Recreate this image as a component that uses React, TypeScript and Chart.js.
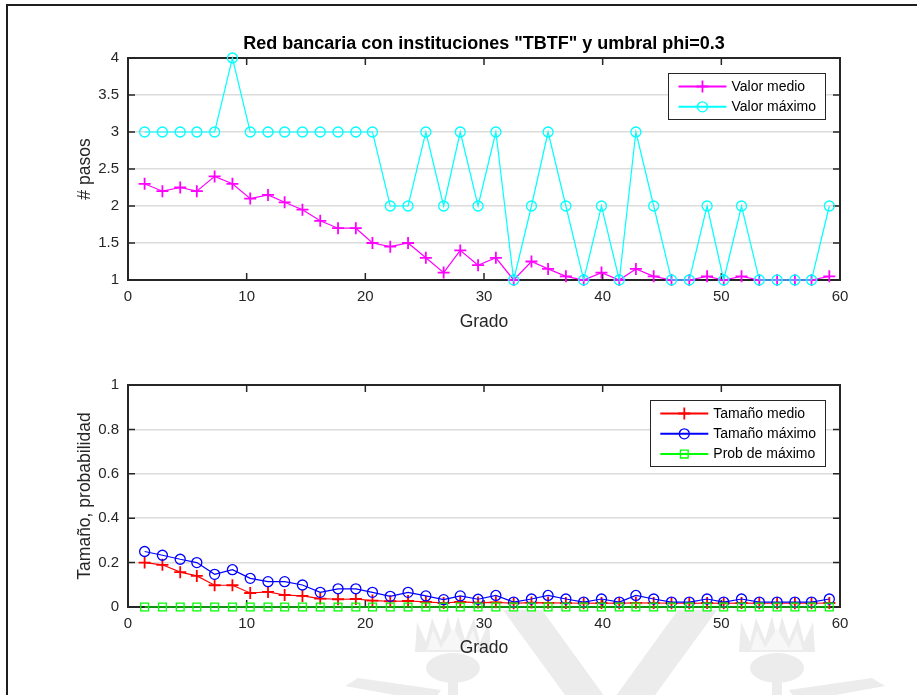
import React, { useEffect, useRef } from "react";
import { Chart, registerables } from "chart.js";

Chart.register(...registerables);

// Grado medio de la red (eje x compartido)
const grado = [
  1.4, 2.9, 4.4, 5.8, 7.3, 8.8, 10.3, 11.8, 13.2, 14.7,
  16.2, 17.7, 19.2, 20.6, 22.1, 23.6, 25.1, 26.6, 28.0, 29.5,
  31.0, 32.5, 34.0, 35.4, 36.9, 38.4, 39.9, 41.4, 42.8, 44.3,
  45.8, 47.3, 48.8, 50.2, 51.7, 53.2, 54.7, 56.2, 57.6, 59.1,
];

// Número de pasos de la cascada
const valorMedio = [
  2.3, 2.2, 2.25, 2.2, 2.4, 2.3, 2.1, 2.15, 2.05, 1.95,
  1.8, 1.7, 1.7, 1.5, 1.45, 1.5, 1.3, 1.1, 1.4, 1.2,
  1.3, 1.0, 1.25, 1.15, 1.05, 1.0, 1.1, 1.0, 1.15, 1.05,
  1.0, 1.0, 1.05, 1.0, 1.05, 1.0, 1.0, 1.0, 1.0, 1.05,
];
const valorMaximo = [
  3, 3, 3, 3, 3, 4, 3, 3, 3, 3,
  3, 3, 3, 3, 2, 2, 3, 2, 3, 2,
  3, 1, 2, 3, 2, 1, 2, 1, 3, 2,
  1, 1, 2, 1, 2, 1, 1, 1, 1, 2,
];

// Tamaño de la cascada y probabilidad del máximo
const tamanoMedio = [
  0.2, 0.19, 0.157, 0.14, 0.098, 0.098, 0.063, 0.068, 0.054, 0.05,
  0.038, 0.035, 0.036, 0.029, 0.026, 0.027, 0.023, 0.018, 0.023, 0.02,
  0.021, 0.017, 0.02, 0.019, 0.018, 0.017, 0.018, 0.017, 0.019, 0.018,
  0.017, 0.017, 0.018, 0.017, 0.018, 0.017, 0.017, 0.017, 0.017, 0.018,
];
const tamanoMaximo = [
  0.25, 0.233, 0.215, 0.2, 0.147, 0.168, 0.129, 0.114, 0.114, 0.099,
  0.066, 0.082, 0.082, 0.066, 0.048, 0.066, 0.05, 0.033, 0.05, 0.035,
  0.052, 0.022, 0.036, 0.052, 0.036, 0.022, 0.036, 0.022, 0.052, 0.036,
  0.022, 0.022, 0.036, 0.022, 0.036, 0.022, 0.022, 0.022, 0.022, 0.036,
];
const probMaximo = [
  0, 0, 0, 0, 0, 0, 0, 0, 0, 0,
  0, 0, 0, 0, 0, 0, 0, 0, 0, 0,
  0, 0, 0, 0, 0, 0, 0, 0, 0, 0,
  0, 0, 0, 0, 0, 0, 0, 0, 0, 0,
];

const titulo = 'Red bancaria con instituciones "TBTF" y umbral phi=0.3';
const xTicks = { min: 0, max: 60, step: 10 };
const yTicksPasos = { min: 1, max: 4, step: 0.5 };
const yTicksTamano = { min: 0, max: 1, step: 0.2 };

const FONT = "'Liberation Sans', Arial, Helvetica, sans-serif";
const INK = "#262626";
const W = 917;

const pts = (ys: number[]) => grado.map((x, i) => ({ x, y: ys[i] }));
const fmt = (v: number) => String(Number(v.toFixed(2)));

function drawMarker(ctx: CanvasRenderingContext2D, style: string, x: number, y: number, r: number) {
  ctx.beginPath();
  if (style === "cross") {
    ctx.moveTo(x - r, y); ctx.lineTo(x + r, y);
    ctx.moveTo(x, y - r); ctx.lineTo(x, y + r);
  } else if (style === "circle") {
    ctx.arc(x, y, r, 0, Math.PI * 2);
  } else {
    const s = r * Math.SQRT1_2;
    ctx.rect(x - s, y - s, 2 * s, 2 * s);
  }
  ctx.stroke();
}

// Box with inward ticks on all four sides
const framePlugin = {
  id: "matFrame",
  beforeDatasetsDraw(chart: any) {
    const { ctx, chartArea: a, scales } = chart;
    const tl = 7;
    ctx.save();
    ctx.strokeStyle = INK;
    ctx.lineWidth = 1.5;
    ctx.beginPath();
    scales.x.ticks.forEach((t: any) => {
      const px = scales.x.getPixelForValue(t.value);
      ctx.moveTo(px, a.top); ctx.lineTo(px, a.top + tl);
      ctx.moveTo(px, a.bottom); ctx.lineTo(px, a.bottom - tl);
    });
    scales.y.ticks.forEach((t: any) => {
      const py = scales.y.getPixelForValue(t.value);
      ctx.moveTo(a.left, py); ctx.lineTo(a.left + tl, py);
      ctx.moveTo(a.right, py); ctx.lineTo(a.right - tl, py);
    });
    ctx.stroke();
    ctx.lineWidth = 2;
    ctx.strokeRect(a.left, a.top, a.right - a.left, a.bottom - a.top);
    ctx.restore();
  },
};

// Legend box in the upper right corner, line + marker samples
const legendPlugin = {
  id: "matLegend",
  afterDatasetsDraw(chart: any) {
    const { ctx, chartArea: a } = chart;
    const sets = chart.data.datasets;
    ctx.save();
    ctx.font = `14px ${FONT}`;
    const textW = Math.max(...sets.map((d: any) => ctx.measureText(d.label).width));
    const rowH = 20.3;
    const boxW = 10 + 48 + 5 + textW + 9;
    const boxH = sets.length * rowH + 5;
    const right = a.right - 15;
    const left = right - boxW;
    const top = a.top + 15;
    ctx.fillStyle = "#ffffff";
    ctx.fillRect(left, top, boxW, boxH);
    ctx.strokeStyle = INK;
    ctx.lineWidth = 1;
    ctx.strokeRect(Math.round(left) + 0.5, Math.round(top) + 0.5, Math.round(boxW), Math.round(boxH));
    sets.forEach((d: any, i: number) => {
      const cy = top + 13.5 + i * rowH;
      const x0 = left + 10;
      ctx.strokeStyle = d.borderColor;
      ctx.lineWidth = 2;
      ctx.beginPath();
      ctx.moveTo(x0, cy); ctx.lineTo(x0 + 48, cy);
      ctx.stroke();
      ctx.lineWidth = d.pointBorderWidth;
      drawMarker(ctx, d.pointStyle, x0 + 24, cy, d.pointRadius);
      ctx.fillStyle = "#000000";
      ctx.textBaseline = "middle";
      ctx.textAlign = "left";
      ctx.fillText(d.label, x0 + 53, cy + 0.5);
    });
    ctx.restore();
  },
};

// Figure title above the upper panel
const titlePlugin = {
  id: "matTitle",
  afterDraw(chart: any) {
    const { ctx, chartArea: a } = chart;
    ctx.save();
    ctx.font = `bold 18px ${FONT}`;
    ctx.fillStyle = "#000000";
    ctx.textAlign = "center";
    ctx.textBaseline = "alphabetic";
    ctx.fillText(titulo, (a.left + a.right) / 2, 49);
    ctx.restore();
  },
};

// Faint emblem printed on the page behind the lower panel
const emblemPlugin = {
  id: "emblem",
  beforeDraw(chart: any) {
    const { ctx, chartArea: a } = chart;
    const oy = -345;
    ctx.save();
    ctx.beginPath();
    ctx.rect(0, a.bottom + 2, chart.width, chart.height);
    ctx.clip();
    ctx.fillStyle = "#ececec";
    const poly = (p: number[][]) => {
      ctx.beginPath();
      p.forEach(([x, y], i) => (i ? ctx.lineTo(x, y + oy) : ctx.moveTo(x, y + oy)));
      ctx.closePath();
      ctx.fill();
    };
    poly([[503, 610], [542, 610], [610, 704], [678, 610], [717, 610], [634, 724], [586, 724]]);
    const thistle = (cx: number, dir: number) => {
      ctx.fillStyle = "#ececec";
      poly([
        [cx - 38, 652], [cx - 36, 622], [cx - 27, 642], [cx - 21, 618], [cx - 12, 640],
        [cx - 5, 616], [cx, 638], [cx + 5, 616], [cx + 12, 640], [cx + 21, 618],
        [cx + 27, 642], [cx + 36, 622], [cx + 38, 652],
      ]);
      ctx.fillStyle = "#f7f7f7";
      poly([[cx - 26, 650], [cx - 20, 630], [cx - 12, 648], [cx, 628], [cx + 12, 648], [cx + 20, 630], [cx + 26, 650]]);
      ctx.fillStyle = "#ececec";
      ctx.beginPath();
      ctx.ellipse(cx, 668 + oy, 27, 15, 0, 0, Math.PI * 2);
      ctx.fill();
      ctx.fillRect(cx - 5, 680 + oy, 10, 30);
      poly([[cx + dir * 12, 690], [cx + dir * 95, 678], [cx + dir * 108, 686], [cx + dir * 20, 702]]);
    };
    thistle(453, -1);
    thistle(777, 1);
    ctx.restore();
  },
};

function makeConfig(opts: {
  datasets: any[];
  yTicks: { min: number; max: number; step: number };
  yTitle: string;
  padTop: number;
  padBottom: number;
  xScaleH: number;
  title: boolean;
  emblem: boolean;
}): any {
  const plugins: any[] = [framePlugin, legendPlugin];
  if (opts.title) plugins.push(titlePlugin);
  if (opts.emblem) plugins.push(emblemPlugin);
  return {
    type: "line",
    data: { datasets: opts.datasets },
    plugins,
    options: {
      responsive: false,
      animation: false,
      layout: { padding: { top: opts.padTop, bottom: opts.padBottom, left: 0, right: W - 840 } },
      plugins: { legend: { display: false }, tooltip: { enabled: false }, title: { display: false } },
      elements: { line: { tension: 0 } },
      scales: {
        x: {
          type: "linear",
          min: xTicks.min,
          max: xTicks.max,
          ticks: {
            stepSize: xTicks.step,
            color: INK,
            font: { family: FONT, size: 15 },
            padding: 8,
            maxRotation: 0,
            callback: (v: number) => fmt(v),
          },
          grid: { display: false, drawTicks: false },
          border: { display: false },
          title: { display: true, text: "Grado", color: INK, font: { family: FONT, size: 17.5 }, padding: 0 },
          afterFit: (s: any) => { s.height = opts.xScaleH; },
        },
        y: {
          type: "linear",
          min: opts.yTicks.min,
          max: opts.yTicks.max,
          ticks: {
            stepSize: opts.yTicks.step,
            color: INK,
            font: { family: FONT, size: 15 },
            padding: 9,
            callback: (v: number) => fmt(v),
          },
          grid: { display: true, drawTicks: false, color: "#dcdcdc", lineWidth: 1.5 },
          border: { display: false },
          title: {
            display: true,
            text: opts.yTitle,
            color: INK,
            font: { family: FONT, size: 17.5 },
            padding: { top: 74.5, bottom: 0 },
          },
          afterFit: (s: any) => { s.width = 128; },
        },
      },
    },
  };
}

const topConfig = () =>
  makeConfig({
    datasets: [
      {
        label: "Valor medio", data: pts(valorMedio), order: 1, clip: false,
        borderColor: "#ff00ff", backgroundColor: "#ff00ff", borderWidth: 1.2,
        pointStyle: "cross", pointRadius: 6, pointBorderWidth: 1.8,
        pointBorderColor: "#ff00ff", pointBackgroundColor: "#ff00ff",
      },
      {
        label: "Valor máximo", data: pts(valorMaximo), order: 0, clip: false,
        borderColor: "#00ffff", backgroundColor: "rgba(0,0,0,0)", borderWidth: 1.2,
        pointStyle: "circle", pointRadius: 5, pointBorderWidth: 1.3,
        pointBorderColor: "#00ffff", pointBackgroundColor: "rgba(0,0,0,0)",
      },
    ],
    yTicks: yTicksPasos,
    yTitle: "# pasos",
    padTop: 58,
    padBottom: 12.5,
    xScaleH: 52.5,
    title: true,
    emblem: false,
  });

const bottomConfig = () =>
  makeConfig({
    datasets: [
      {
        label: "Tamaño medio", data: pts(tamanoMedio), order: 2, clip: false,
        borderColor: "#ff0000", backgroundColor: "#ff0000", borderWidth: 1.2,
        pointStyle: "cross", pointRadius: 6, pointBorderWidth: 1.8,
        pointBorderColor: "#ff0000", pointBackgroundColor: "#ff0000",
      },
      {
        label: "Tamaño máximo", data: pts(tamanoMaximo), order: 1, clip: false,
        borderColor: "#0000ff", backgroundColor: "rgba(0,0,0,0)", borderWidth: 1.2,
        pointStyle: "circle", pointRadius: 5, pointBorderWidth: 1.3,
        pointBorderColor: "#0000ff", pointBackgroundColor: "rgba(0,0,0,0)",
      },
      {
        label: "Prob de máximo", data: pts(probMaximo), order: 0, clip: false,
        borderColor: "#00ff00", backgroundColor: "rgba(0,0,0,0)", borderWidth: 1.2,
        pointStyle: "rect", pointRadius: 5.5, pointBorderWidth: 1.3,
        pointBorderColor: "#00ff00", pointBackgroundColor: "rgba(0,0,0,0)",
      },
    ],
    yTicks: yTicksTamano,
    yTitle: "Tamaño, probabilidad",
    padTop: 40,
    padBottom: 36.5,
    xScaleH: 51.5,
    title: false,
    emblem: true,
  });

function Panel({ make, top, height }: { make: () => any; top: number; height: number }) {
  const ref = useRef<HTMLCanvasElement>(null);
  useEffect(() => {
    const chart = new Chart(ref.current as HTMLCanvasElement, make());
    return () => chart.destroy();
  }, [make]);
  return (
    <canvas
      ref={ref}
      width={W}
      height={height}
      style={{ position: "absolute", left: 0, top, width: W, height, display: "block" }}
    />
  );
}

export default function App() {
  return (
    <div style={{ position: "fixed", left: 0, top: 0, width: W, height: 695, background: "#ffffff", overflow: "hidden" }}>
      <Panel make={bottomConfig} top={345} height={350} />
      <Panel make={topConfig} top={0} height={345} />
      <div
        style={{
          position: "absolute", left: 6, top: 4, width: W, height: 700,
          borderTop: "2px solid #1e1e1e", borderLeft: "2px solid #1e1e1e", pointerEvents: "none",
        }}
      />
    </div>
  );
}
